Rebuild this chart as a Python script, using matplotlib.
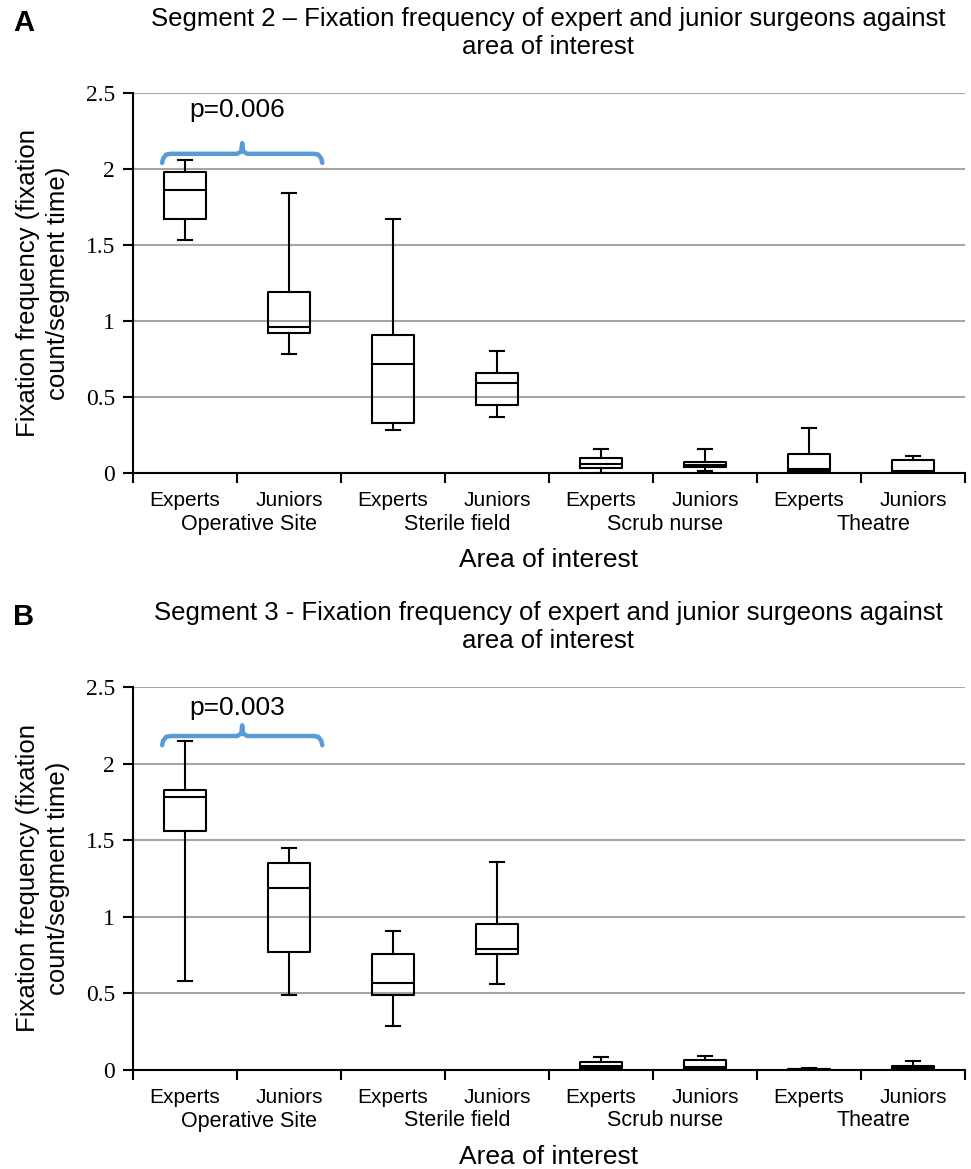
import matplotlib
matplotlib.use("Agg")
import matplotlib.pyplot as plt

plt.rcParams['font.family'] = ['Liberation Sans', 'DejaVu Sans']

# categories
tick_labels = ["Experts", "Juniors"] * 4
groups = ["Operative Site", "Sterile field", "Scrub nurse", "Theatre"]

# segment 2 (panel A): whisker low, Q1, median, Q3, whisker high
seg2_low = [1.53, 0.78, 0.28, 0.37, 0.00, 0.013, 0.00, 0.00]
seg2_q1 = [1.67, 0.92, 0.33, 0.45, 0.03, 0.037, 0.01, 0.004]
seg2_med = [1.86, 0.96, 0.72, 0.59, 0.06, 0.055, 0.026, 0.01]
seg2_q3 = [1.98, 1.19, 0.91, 0.66, 0.10, 0.07, 0.127, 0.083]
seg2_high = [2.06, 1.84, 1.67, 0.80, 0.158, 0.158, 0.296, 0.114]

# segment 3 (panel B)
seg3_low = [0.58, 0.49, 0.285, 0.56, 0.00, 0.00, 0.00, 0.00]
seg3_q1 = [1.56, 0.77, 0.49, 0.76, 0.01, 0.005, 0.002, 0.006]
seg3_med = [1.78, 1.19, 0.57, 0.79, 0.026, 0.017, 0.005, 0.015]
seg3_q3 = [1.83, 1.35, 0.76, 0.95, 0.05, 0.063, 0.009, 0.024]
seg3_high = [2.15, 1.45, 0.91, 1.36, 0.083, 0.091, 0.013, 0.059]

titles = ["Segment 2 \u2013 Fixation frequency of expert and junior surgeons against\narea of interest",
          "Segment 3 - Fixation frequency of expert and junior surgeons against\narea of interest"]
p_values = ["p=0.006", "p=0.003"]
panel_letters = ["A", "B"]

W, H = 971, 1169
fig = plt.figure(figsize=(W / 100, H / 100), dpi=100)


def px_rect(left, top, right, bottom):
    return [left / W, 1 - bottom / H, (right - left) / W, (bottom - top) / H]


axes_px = [(133, 93, 965, 473), (133, 687, 965, 1070)]
brace_levels = [(2.04, 2.10, 2.17, 2.39), (2.12, 2.18, 2.25, 2.36)]
data = [(seg2_low, seg2_q1, seg2_med, seg2_q3, seg2_high),
        (seg3_low, seg3_q1, seg3_med, seg3_q3, seg3_high)]

for k in range(2):
    left, top, right, bottom = axes_px[k]
    ax = fig.add_axes(px_rect(left, top, right, bottom))
    low, q1, med, q3, high = data[k]
    stats = []
    for i in range(8):
        stats.append(dict(whislo=low[i], q1=q1[i], med=med[i], q3=q3[i],
                          whishi=high[i], fliers=[]))
    ax.bxp(stats, positions=range(1, 9), widths=0.4, showfliers=False,
           boxprops=dict(color='black', linewidth=1.5),
           medianprops=dict(color='black', linewidth=1.5),
           whiskerprops=dict(color='black', linewidth=1.5),
           capprops=dict(color='black', linewidth=1.5),
           capwidths=0.13)

    ax.set_xlim(0.5, 8.5)
    ax.set_ylim(0, 2.5)
    ax.set_yticks([0, 0.5, 1, 1.5, 2, 2.5])
    ax.set_yticklabels(["0", "0.5", "1", "1.5", "2", "2.5"],
                       family="Liberation Serif", fontsize=17)
    ax.yaxis.grid(True, color='#a6a6a6', linewidth=1.5)
    ax.set_axisbelow(True)
    ax.spines['top'].set_visible(False)
    ax.spines['right'].set_visible(False)
    for s in ['left', 'bottom']:
        ax.spines[s].set_linewidth(1.5)
    ax.tick_params(axis='y', length=7, width=1.5, pad=6)

    # category boundaries as major ticks, labels as minor ticks
    ax.set_xticks([i + 0.5 for i in range(9)])
    ax.set_xticklabels([])
    ax.tick_params(axis='x', which='major', length=7, width=1.5, direction='out')
    ax.set_xticks(range(1, 9), minor=True)
    ax.set_xticklabels(tick_labels, minor=True, fontsize=15)
    ax.tick_params(axis='x', which='minor', length=0, pad=13)

    h = bottom - top
    for g, name in enumerate(groups):
        ax.text(2 * g + 1.62, -(51 / h), name, transform=ax.get_xaxis_transform(),
                ha='center', va='center', fontsize=15.5)
    ax.text(4.5, -(87 / h), "Area of interest", transform=ax.get_xaxis_transform(),
            ha='center', va='center', fontsize=19)

    fig.text(43 / W, 1 - (top + h / 2) / H,
             "Fixation frequency (fixation\ncount/segment time)",
             rotation=90, ha='center', va='center', fontsize=18.5, linespacing=1.3)

    # significance brace
    y_end, y_bar, y_tip, y_txt = brace_levels[k]
    bx = [0.78, 0.79, 0.82, 0.86, 1.50, 1.54, 1.55, 1.56, 1.60, 2.24, 2.28, 2.31, 2.32]
    by = [y_end, y_bar - 0.03, y_bar - 0.005, y_bar, y_bar, y_bar + 0.015, y_tip,
          y_bar + 0.015, y_bar, y_bar, y_bar - 0.005, y_bar - 0.03, y_end]
    ax.plot(bx, by, color='#5b9bd5', linewidth=3.2, solid_capstyle='round',
            solid_joinstyle='round', clip_on=False)
    ax.text(1.5, y_txt, p_values[k], ha='center', va='center', fontsize=19)

    fig.text(548 / W, 1 - (top - 60) / H, titles[k], ha='center', va='center',
             fontsize=18.5, linespacing=1.2)
    fig.text(13 / W, 1 - (top - 70) / H, panel_letters[k], ha='left', va='center',
             fontsize=21, fontweight='bold')

fig.savefig("out.png", dpi=100)
